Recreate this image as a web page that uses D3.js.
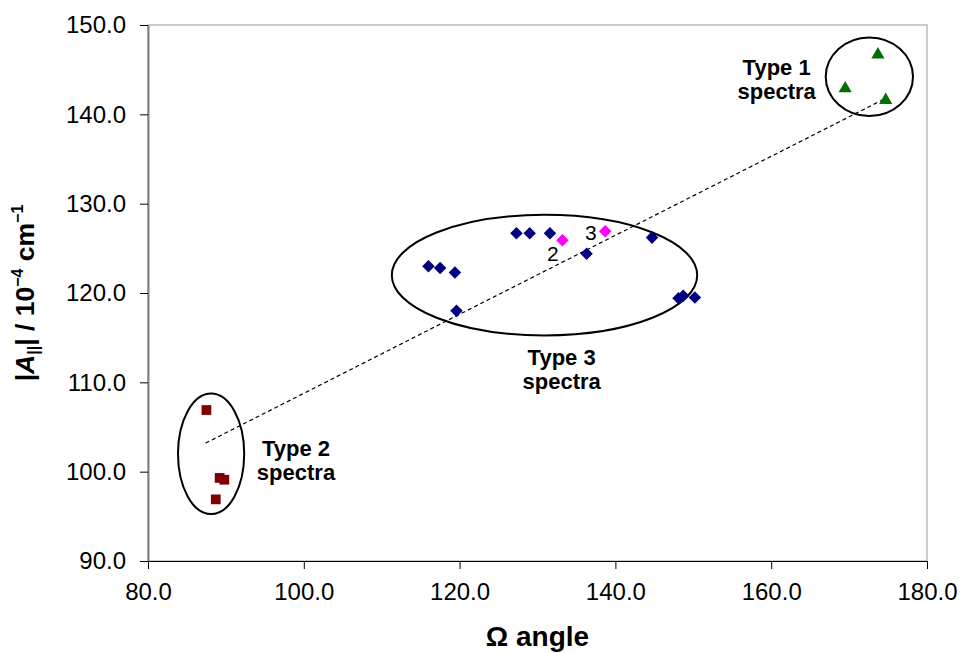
<!DOCTYPE html>
<html>
<head>
<meta charset="utf-8">
<script src="https://cdn.jsdelivr.net/npm/d3@7"></script>
<style>
  body { margin: 0; background: #fff; }
  svg { font-family: "Liberation Sans", Arial, sans-serif; }
</style>
</head>
<body>
<div id="chart"></div>
<script>
// values (omega angle, |A| in 1e-4 cm-1)
const type3X = [116.0, 117.5, 119.4, 119.6, 127.3, 129.0, 131.6, 136.3, 144.7, 148.1, 148.7, 150.2];
const type3Y = [123.0, 122.8, 122.3, 118.0, 126.7, 126.7, 126.7, 124.4, 126.2, 119.4, 119.7, 119.5];
const pinkX = [133.2, 138.7];
const pinkY = [125.9, 126.9];
const pinkLabels = ["2", "3"];
const type2X = [87.5, 89.2, 89.8, 88.7];
const type2Y = [106.9, 99.3, 99.1, 96.9];
const type1X = [173.7, 169.5, 174.7];
const type1Y = [146.8, 143.0, 141.7];
const trendX = [87.4, 174.7];
const trendY = [103.2, 141.8];
const xTicks = [80, 100, 120, 140, 160, 180];
const yTicks = [90, 100, 110, 120, 130, 140, 150];
// group ellipses: centre and radii in data units
const groupNames = ["Type 1", "Type 3", "Type 2"];
const groupCx = [172.6, 130.9, 88.1];
const groupCy = [144.2, 122.0, 102.0];
const groupRx = [5.6, 19.6, 4.25];
const groupRy = [4.4, 6.75, 6.75];
const groupLabelX = [160.7, 133.1, 99.0];
const groupLabelY = [144.4, 111.9, 101.75];

const svgWidth = 961;
const svgHeight = 653;
const x = d3.scaleLinear().domain([80, 180]).range([148, 927]);
const y = d3.scaleLinear().domain([90, 150]).range([561, 25]);

const svg = d3.select("#chart").append("svg")
    .attr("width", svgWidth)
    .attr("height", svgHeight);

// plot area border
svg.append("rect")
    .attr("x", x(80)).attr("y", y(150))
    .attr("width", x(180) - x(80)).attr("height", y(90) - y(150))
    .attr("fill", "none")
    .attr("stroke", "#9a9a9a")
    .attr("stroke-width", 1);

// trend line
svg.append("line")
    .attr("x1", x(trendX[0])).attr("y1", y(trendY[0]))
    .attr("x2", x(trendX[1])).attr("y2", y(trendY[1]))
    .attr("stroke", "#000")
    .attr("stroke-width", 1.2)
    .attr("stroke-dasharray", "4,3");

// ellipses around the groups
groupNames.forEach((name, i) => {
    svg.append("ellipse")
        .attr("cx", x(groupCx[i])).attr("cy", y(groupCy[i]))
        .attr("rx", x(groupCx[i] + groupRx[i]) - x(groupCx[i]))
        .attr("ry", y(groupCy[i] - groupRy[i]) - y(groupCy[i]))
        .attr("fill", "none")
        .attr("stroke", "#000")
        .attr("stroke-width", 2);

    const t = svg.append("text")
        .attr("x", x(groupLabelX[i])).attr("y", y(groupLabelY[i]))
        .attr("text-anchor", "middle")
        .attr("font-size", "22px")
        .attr("font-weight", "bold");
    t.append("tspan").text(name);
    t.append("tspan").attr("x", x(groupLabelX[i])).attr("dy", 24).text("spectra");
});

// markers
const diamond = d3.symbol().type(d3.symbolDiamond2).size(100);
const square = d3.symbol().type(d3.symbolSquare).size(95);
const triangle = d3.symbol().type(d3.symbolTriangle).size(75);

svg.selectAll(".t3").data(d3.zip(type3X, type3Y)).enter()
    .append("path").attr("class", "t3")
    .attr("d", diamond)
    .attr("transform", d => `translate(${x(d[0])},${y(d[1])})`)
    .attr("fill", "#000080");

svg.selectAll(".pk").data(d3.zip(pinkX, pinkY)).enter()
    .append("path").attr("class", "pk")
    .attr("d", diamond)
    .attr("transform", d => `translate(${x(d[0])},${y(d[1])})`)
    .attr("fill", "#ff00ff");

svg.selectAll(".t2").data(d3.zip(type2X, type2Y)).enter()
    .append("path").attr("class", "t2")
    .attr("d", square)
    .attr("transform", d => `translate(${x(d[0])},${y(d[1])})`)
    .attr("fill", "#800000");

svg.selectAll(".t1").data(d3.zip(type1X, type1Y)).enter()
    .append("path").attr("class", "t1")
    .attr("d", triangle)
    .attr("transform", d => `translate(${x(d[0])},${y(d[1]) + 1})`)
    .attr("fill", "#007000");

// numbers beside the pink points
const pinkDx = [-9.5, -14.5];
const pinkDy = [21, 9];
svg.selectAll(".pl").data(pinkLabels).enter()
    .append("text").attr("class", "pl")
    .attr("x", (d, i) => x(pinkX[i]) + pinkDx[i])
    .attr("y", (d, i) => y(pinkY[i]) + pinkDy[i])
    .attr("text-anchor", "middle")
    .attr("font-size", "21px")
    .text(d => d);

// axes
const xAxis = svg.append("g")
    .attr("transform", `translate(0,${y(90)})`)
    .call(d3.axisBottom(x).tickValues(xTicks).tickSize(8).tickSizeOuter(0).tickPadding(14)
        .tickFormat(d3.format(".1f")));
xAxis.select(".domain").attr("stroke", "#000").attr("stroke-width", 1.2);
xAxis.selectAll(".tick line").attr("stroke", "#000");
xAxis.selectAll("text").attr("font-size", "24px").attr("fill", "#000")
    .attr("font-family", "Liberation Sans, Arial, sans-serif");

const yAxis = svg.append("g")
    .attr("transform", `translate(${x(80)},0)`)
    .call(d3.axisLeft(y).tickValues(yTicks).tickSize(8).tickSizeOuter(0).tickPadding(14)
        .tickFormat(d3.format(".1f")));
yAxis.select(".domain").attr("stroke", "#7f7f7f").attr("stroke-width", 2);
yAxis.selectAll(".tick line").attr("stroke", "#000");
yAxis.selectAll("text").attr("font-size", "24px").attr("fill", "#000")
    .attr("font-family", "Liberation Sans, Arial, sans-serif");

// axis titles
svg.append("text")
    .attr("x", (x(80) + x(180)) / 2)
    .attr("y", 646)
    .attr("text-anchor", "middle")
    .attr("font-size", "28px")
    .attr("font-weight", "bold")
    .text("\u03A9 angle");

const yt = svg.append("text")
    .attr("transform", `translate(34,${(y(90) + y(150)) / 2}) rotate(-90)`)
    .attr("text-anchor", "middle")
    .attr("font-size", "26.5px")
    .attr("font-weight", "bold");
yt.append("tspan").text("|");
yt.append("tspan").attr("font-style", "italic").text("A");
yt.append("tspan").attr("font-size", "16px").attr("dy", 5).text("||");
yt.append("tspan").attr("dy", -5).text("| / 10");
yt.append("tspan").attr("font-size", "16px").attr("dy", -11).text("\u22124");
yt.append("tspan").attr("dy", 11).text(" cm");
yt.append("tspan").attr("font-size", "16px").attr("dy", -11).text("\u22121");
</script>
</body>
</html>
